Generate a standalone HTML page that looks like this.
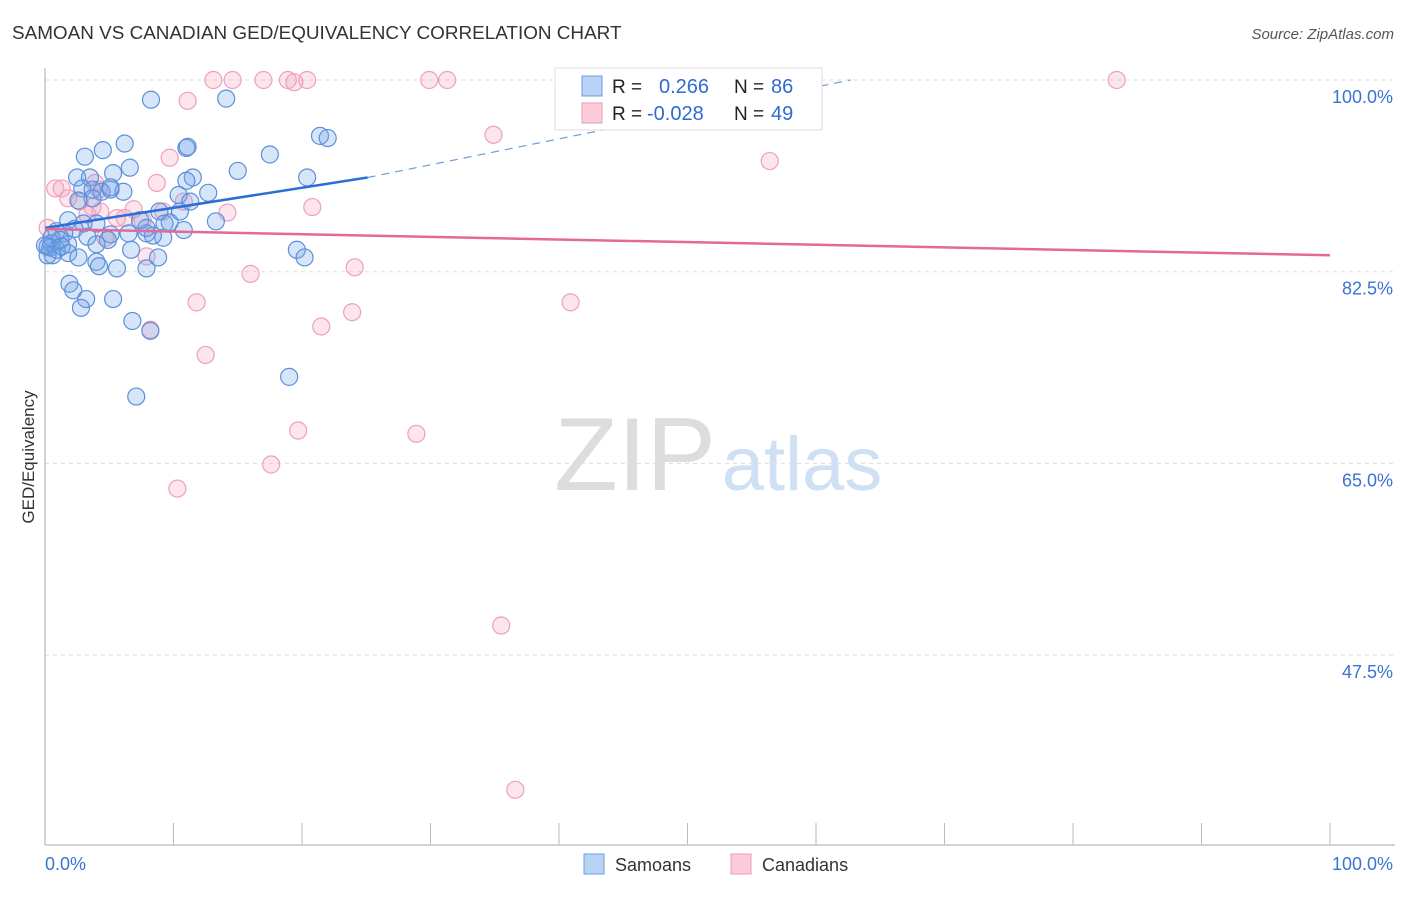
<!DOCTYPE html>
<html><head><meta charset="utf-8">
<style>
body{margin:0;background:#fff;font-family:"Liberation Sans",sans-serif;}
svg text{font-family:"Liberation Sans",sans-serif;}
</style></head>
<body>
<svg id="chart" width="1406" height="892" viewBox="0 0 1406 892" xmlns="http://www.w3.org/2000/svg">
<text x="12" y="39" font-size="18.9" fill="#333">SAMOAN VS CANADIAN GED/EQUIVALENCY CORRELATION CHART</text>
<text x="1394" y="39" font-size="15" fill="#555" text-anchor="end" font-style="italic">Source: ZipAtlas.com</text>
<text transform="translate(34,457) rotate(-90)" font-size="17" fill="#333" text-anchor="middle">GED/Equivalency</text>
<g>
<text x="635" y="490" font-size="104" fill="#ddd" text-anchor="middle" font-family="Liberation Serif">ZIP</text>
<text x="802" y="490" font-size="76" fill="#cfe0f4" text-anchor="middle">atlas</text>
</g>
<g id="grid"></g>
<g id="axes"></g>
<g id="pink"></g>
<g id="blue"></g>
<g id="lines"></g>
<g>
<rect x="555" y="68" width="267" height="62" fill="#fff" stroke="#ddd"/>
<rect x="582" y="76" width="20" height="20" fill="#b8d3f5" stroke="#6a9ee0"/>
<rect x="582" y="103" width="20" height="20" fill="#fbcadb" stroke="#eb9bb6"/>
<text x="612" y="93" font-size="19" fill="#222">R =</text>
<text x="659" y="93" font-size="20" fill="#2f6bd0">0.266</text>
<text x="734" y="93" font-size="19" fill="#222">N =</text>
<text x="771" y="93" font-size="20" fill="#2f6bd0">86</text>
<text x="612" y="120" font-size="19" fill="#222">R =</text>
<text x="647" y="120" font-size="20" fill="#2f6bd0">-0.028</text>
<text x="734" y="120" font-size="19" fill="#222">N =</text>
<text x="771" y="120" font-size="20" fill="#2f6bd0">49</text>
</g>
<g>
<rect x="584" y="854" width="20" height="20" fill="#b8d3f5" stroke="#6a9ee0"/>
<text x="615" y="871" font-size="18" fill="#333">Samoans</text>
<rect x="731" y="854" width="20" height="20" fill="#fbcadb" stroke="#eb9bb6"/>
<text x="762" y="871" font-size="18" fill="#333">Canadians</text>
</g>
</svg>
<script>
const yTicks=[100,82.5,65,47.5];
const yTickLabels=["100.0%","82.5%","65.0%","47.5%"];
const blueX=[8.25,14.1,6.2,4.5,3.1,11.0,11.1,6.6,5.3,2.5,3.5,17.5,15.0,21.4,22.0,20.4,11.5,11.0,12.7,10.4,2.9,3.7,5.1,6.1,4.4,5.1,3.7,2.6,11.3,8.9,9.7,10.5,13.3,1.8,3.0,4.0,2.3,0.9,1.5,3.3,5.1,6.5,7.9,9.2,8.4,4.9,4.0,1.8,0.5,0.4,0.9,1.8,0.6,2.6,4.0,6.7,8.8,5.6,7.9,4.2,19.6,20.2,1.9,2.2,3.2,2.8,5.3,6.8,8.2,19.0,7.1,0.2,0.2,1.2,0.5,0.0,1.3,9.3,7.4,7.9,10.8];
const blueY=[98.2,98.3,94.2,93.6,93.0,93.8,93.9,92.0,91.5,91.1,91.1,93.2,91.7,94.9,94.7,91.1,91.1,90.8,89.7,89.5,90.1,90.0,90.0,89.8,89.8,90.2,89.2,89.0,88.9,88.0,87.0,88.0,87.1,87.2,86.9,86.9,86.4,86.2,86.0,85.7,85.9,86.0,86.0,85.6,85.8,85.4,85.0,85.0,85.1,84.7,84.5,84.2,84.0,83.8,83.4,84.5,83.8,82.8,82.8,83.0,84.5,83.8,81.4,80.8,80.0,79.2,80.0,78.0,77.1,72.9,71.1,84.8,84.0,85.4,85.6,84.9,84.8,86.9,87.2,86.5,86.3];
const pinkX=[13.1,14.6,17.0,18.9,19.4,20.4,29.9,31.3,47.6,83.4,11.1,34.9,56.4,9.7,8.7,0.8,1.3,1.8,2.7,4.2,3.7,3.3,5.6,6.9,7.6,9.2,10.8,14.2,20.8,0.2,4.7,7.9,16.0,24.1,11.8,40.9,23.9,21.5,8.2,12.5,19.7,28.9,17.6,10.3,35.5,36.6,4.3,6.2,3.9];
const pinkY=[100,100,100,100,99.8,100,100,100,100,100,98.1,95.0,92.6,92.9,90.6,90.1,90.1,89.2,88.9,90.0,88.4,87.7,87.4,88.2,87.2,88.0,88.9,87.9,88.4,86.5,85.6,83.9,82.3,82.9,79.7,79.7,78.8,77.5,77.2,74.9,68.0,67.7,64.9,62.7,50.2,35.2,88.0,87.4,90.6];
const blueTrend=[86.5,91.1,25.1,62.7,100]; // y at 0, y at solid end, solid end x, dashed end x, dashed end y
const pinkTrend=[86.4,84.0];
const NS="http://www.w3.org/2000/svg";
const X=v=>45+v*12.85;
const Y=v=>80+(100-v)*10.954;
function mk(tag,attrs,parent){const e=document.createElementNS(NS,tag);for(const k in attrs)e.setAttribute(k,attrs[k]);parent.appendChild(e);return e;}
const grid=document.getElementById('grid');
yTicks.forEach((t,i)=>{
  const l=mk('line',{x1:45,x2:1395,y1:Y(t),y2:Y(t),stroke:'#ddd','stroke-dasharray':'4,4'},grid);
  
  
  const tx=mk('text',{x:1393,y:Y(t)+23,'font-size':18,fill:'#3b73d3','text-anchor':'end'},grid);
  tx.textContent=yTickLabels[i];
  
  
});
const axes=document.getElementById('axes');
const ya=mk('line',{x1:45,x2:45,y1:68,y2:845,stroke:'#aaa'},axes);


const xa=mk('line',{x1:45,x2:1395,y1:845,y2:845,stroke:'#aaa'},axes);


for(let i=1;i<=10;i++){
  const t=mk('line',{x1:X(i*10),x2:X(i*10),y1:823,y2:845,stroke:'#bbb'},axes);
  
  
}
const xl0=mk('text',{x:45,y:870,'font-size':18,fill:'#3b73d3'},axes);xl0.textContent='0.0%';


const xl1=mk('text',{x:1393,y:870,'font-size':18,fill:'#3b73d3','text-anchor':'end'},axes);xl1.textContent='100.0%';


const pg=document.getElementById('pink');
pinkX.forEach((v,i)=>{const c=mk('circle',{cx:X(v),cy:Y(pinkY[i]),r:8.5,fill:'rgba(245,160,190,0.28)',stroke:'#eda0bb','stroke-width':1.2},pg);

});
const bg=document.getElementById('blue');
blueX.forEach((v,i)=>{const c=mk('circle',{cx:X(v),cy:Y(blueY[i]),r:8.5,fill:'rgba(110,160,230,0.28)',stroke:'#5c90dc','stroke-width':1.2},bg);

});
const lg=document.getElementById('lines');
const b1=mk('line',{x1:X(0),y1:Y(blueTrend[0]),x2:X(blueTrend[2]),y2:Y(blueTrend[1]),stroke:'#2a6fd6','stroke-width':2.5},lg);


const b2=mk('line',{x1:X(blueTrend[2]),y1:Y(blueTrend[1]),x2:X(blueTrend[3]),y2:Y(blueTrend[4]),stroke:'#6a9ee0','stroke-width':1.2,'stroke-dasharray':'8,6'},lg);


const p1=mk('line',{x1:X(0),y1:Y(pinkTrend[0]),x2:X(100),y2:Y(pinkTrend[1]),stroke:'#e36a96','stroke-width':2.5},lg);


</script>
</body></html>
